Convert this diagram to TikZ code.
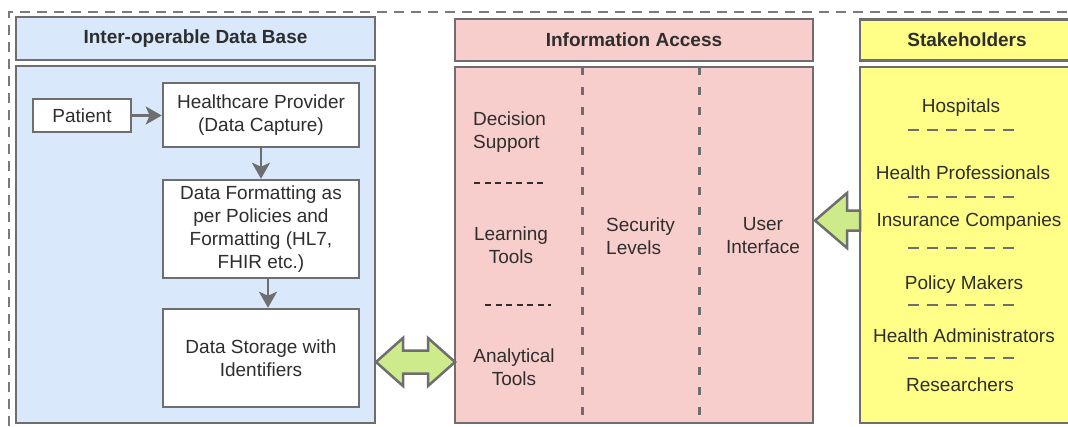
\documentclass[tikz,border=0pt]{standalone}
\usepackage{fontspec}
\setmainfont{Liberation Sans}
\usetikzlibrary{arrows.meta}
\definecolor{bfill}{HTML}{DAE8FC}
\definecolor{pfill}{HTML}{F8CECC}
\definecolor{yfill}{HTML}{FFFF88}
\definecolor{gfill}{HTML}{CDEB8B}
\definecolor{edgec}{HTML}{6E6E6E}
\definecolor{framec}{HTML}{7A7A7A}
\definecolor{txt}{HTML}{2E2E2E}
\begin{document}
\begin{tikzpicture}[x=1pt,y=-1pt,
  font=\fontsize{19}{23}\selectfont, text=txt,
  panel/.style={draw=edgec, line width=2.5pt, inner sep=0pt, anchor=center},
  hdr/.style={panel, font=\fontsize{19}{23}\selectfont\bfseries},
  box/.style={draw=edgec, line width=2.5pt, fill=white, inner sep=0pt, align=center},
  flow/.style={draw=edgec, line width=2.5pt, -{Stealth[length=16pt,width=18pt,inset=4pt]}},
  lbl/.style={inner sep=0pt},
  vsep/.style={draw=edgec, line width=3pt, dash pattern=on 8pt off 12pt},
  hsepa/.style={draw=txt, line width=1.6pt, dash pattern=on 6pt off 4.5pt},
  hsepb/.style={draw=edgec, line width=2.5pt, dash pattern=on 11pt off 8pt},
  bigarrow/.style={draw=edgec, line width=2.5pt, fill=gfill, line join=miter}
]
\useasboundingbox (0,0) rectangle (1068,426);
\fill[white] (0,0) rectangle (1068,426);
% outer dashed frame
\draw[draw=framec, line width=2.5pt, dash pattern=on 10pt off 7pt] (9,426) -- (9,12) -- (1068,12);

% headers
\node[hdr, fill=bfill, minimum width=359pt, minimum height=43pt] (lhead) at (195.5,38.5) {Inter-operable Data Base};
\node[hdr, fill=pfill, minimum width=358pt, minimum height=42pt] (mhead) at (634,40) {Information Access};
\node[hdr, fill=yfill, minimum width=214pt, minimum height=41pt, text width=208pt, align=center] (rhead) at (967,40) {Stakeholders};

% bodies
\node[panel, fill=bfill, minimum width=359pt, minimum height=357pt] (lbody) at (195.5,244.5) {};
\node[panel, fill=pfill, minimum width=358pt, minimum height=356pt] (mbody) at (634,245) {};
\node[panel, fill=yfill, minimum width=214pt, minimum height=356pt] (rbody) at (967,245) {};

% left flow
\node[box, minimum width=98pt, minimum height=33pt] (patient) at (82,115.5) {Patient};
\node[box, minimum width=196pt, minimum height=64pt] (hp) at (261,115) {Healthcare Provider\\(Data Capture)};
\node[box, minimum width=196pt, minimum height=98pt] (df) at (261,229) {Data Formatting as\\per Policies and\\Formatting (HL7,\\FHIR etc.)};
\node[box, minimum width=196pt, minimum height=98pt] (ds) at (261,358) {Data Storage with\\Identifiers};
\draw[flow] (patient.east) -- (hp.west |- patient.east);
\draw[flow] (hp.south) -- (df.north);
\draw[flow] ([xshift=7pt]df.south) -- ([xshift=7pt]ds.north);

% middle content
\coordinate (d1t) at (582,67); \coordinate (d1b) at (582,423);
\coordinate (d2t) at (699,67); \coordinate (d2b) at (699,423);
\draw[vsep] (d1t) -- (d1b);
\draw[vsep] (d2t) -- (d2b);
\node[lbl, anchor=west, align=left] (dsup) at (473,132) {Decision\\Support};
\coordinate (ha1) at (474,183); \coordinate (ha2) at (545,183);
\draw[hsepa] (ha1) -- (ha2);
\node[lbl, align=center] (ltools) at (511,245) {Learning\\Tools};
\coordinate (hb1) at (485,305); \coordinate (hb2) at (551,305);
\draw[hsepa] (hb1) -- (hb2);
\node[lbl, align=center] (atools) at (514,367) {Analytical\\Tools};
\node[lbl, anchor=west, align=left] (sec) at (606,236) {Security\\Levels};
\node[lbl, align=center] (ui) at (763,236) {User\\Interface};

% stakeholders
\node[lbl] (s1) at (961,108) {Hospitals};
\node[lbl] (s2) at (963,173) {Health Professionals};
\node[lbl] (s3) at (969,222) {Insurance Companies};
\node[lbl] (s4) at (964,285) {Policy Makers};
\node[lbl] (s5) at (964,336) {Health Administrators};
\node[lbl] (s6) at (960,385) {Researchers};
\foreach \yy/\nm in {130/a,197/b,248/c,305/d,358/e}{
  \coordinate (sl\nm) at (908,\yy); \coordinate (sr\nm) at (1014,\yy);
  \draw[hsepb] (sl\nm) -- (sr\nm);
}

% big green arrows
\draw[bigarrow] (376,362) -- (403,338) -- (403,350.5) -- (428,350.5) -- (428,338) -- (455,362)
  -- (428,386) -- (428,373.5) -- (403,373.5) -- (403,386) -- cycle;
\draw[bigarrow] (815,220.5) -- (847,193) -- (847,210.5) -- (860,210.5) -- (860,230.5) -- (847,230.5) -- (847,248) -- cycle;
\end{tikzpicture}
\end{document}
